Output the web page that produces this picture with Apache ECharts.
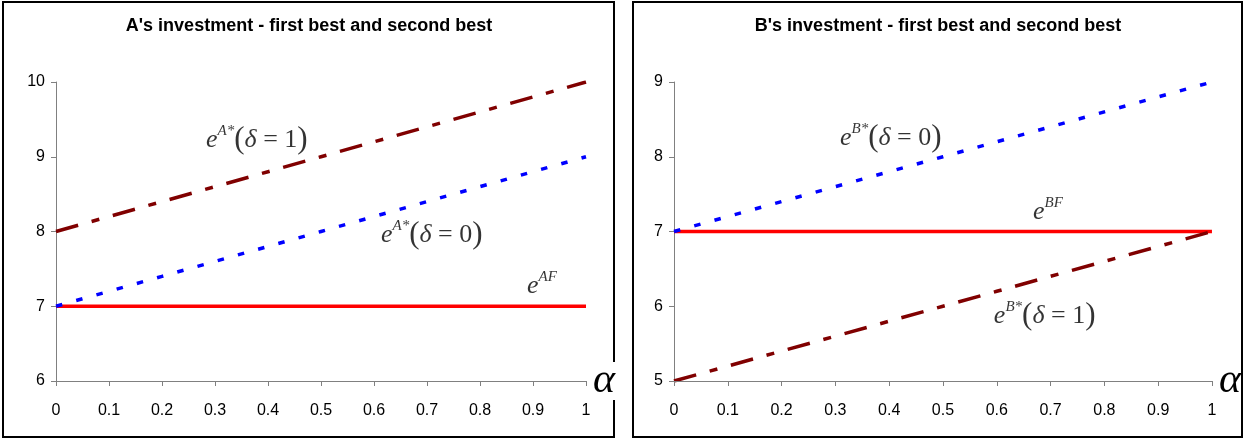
<!DOCTYPE html>
<html>
<head>
<meta charset="utf-8">
<script src="https://cdn.jsdelivr.net/npm/echarts@6/dist/echarts.min.js"></script>
<style>
html,body{margin:0;padding:0;background:#fff;}
#c{width:1244px;height:440px;}
</style>
</head>
<body>
<div id="c"></div>
<script>
// ---- data ----
const alphaValues = [0, 0.1, 0.2, 0.3, 0.4, 0.5, 0.6, 0.7, 0.8, 0.9, 1];
const aSecondDelta1 = [8, 8.2, 8.4, 8.6, 8.8, 9, 9.2, 9.4, 9.6, 9.8, 10];
const aSecondDelta0 = [7, 7.2, 7.4, 7.6, 7.8, 8, 8.2, 8.4, 8.6, 8.8, 9];
const aFirstBest    = [7, 7, 7, 7, 7, 7, 7, 7, 7, 7, 7];
const bSecondDelta0 = [7, 7.2, 7.4, 7.6, 7.8, 8, 8.2, 8.4, 8.6, 8.8, 9];
const bFirstBest    = [7, 7, 7, 7, 7, 7, 7, 7, 7, 7, 7];
const bSecondDelta1 = [5, 5.2, 5.4, 5.6, 5.8, 6, 6.2, 6.4, 6.6, 6.8, 7];
const titleA = "A's investment - first best and second best";
const titleB = "B's investment - first best and second best";
const xAxisName = 'α';

function pairs(xs, ys){ return xs.map((x,i)=>[x, ys[i]]); }

const serif = "'Liberation Serif', 'DejaVu Serif', serif";
const sans = "'Liberation Sans', Arial, sans-serif";

const rich = {
  e: {fontFamily: serif, fontStyle: 'italic', fontSize: 26, lineHeight: 32, color: '#000'},
  s: {fontFamily: serif, fontStyle: 'italic', fontSize: 15, lineHeight: 15, verticalAlign: 'top', color: '#000'},
  p: {fontFamily: serif, fontSize: 31, lineHeight: 32, color: '#000'},
  d: {fontFamily: serif, fontStyle: 'italic', fontSize: 26, lineHeight: 32, color: '#000'},
  n: {fontFamily: serif, fontSize: 26, lineHeight: 32, color: '#000'}
};
function mathLabel(sup, delta){
  if (delta === null) return '{e|e}{s|' + sup + '}';
  return '{e|e}{s|' + sup + '}{p|(}{d|δ}{n| = ' + delta + '}{p|)}';
}

// annotation anchors (data units) for each panel
const annA = [
  {value: [0.379, 9.224], text: mathLabel('A*', 1)},
  {value: [0.709, 7.953], text: mathLabel('A*', 0)},
  {value: [0.917, 7.271], text: mathLabel('AF', null)}
];
const annB = [
  {value: [0.403, 8.251], text: mathLabel('B*', 0)},
  {value: [0.695, 7.261], text: mathLabel('BF', null)},
  {value: [0.689, 5.870], text: mathLabel('B*', 1)}
];

const axisGray = '#808080';
function xAxisDef(gi){
  return {
    type: 'value', gridIndex: gi, min: 0, max: 1, interval: 0.1, z: 5,
    name: xAxisName, nameLocation: 'end', nameGap: 7,
    nameTextStyle: {fontFamily: serif, fontStyle: 'italic', fontSize: 42, color: '#000',
                    backgroundColor: '#fff', verticalAlign: 'middle', align: 'left', lineHeight: 38},
    axisLine: {show: true, onZero: false, lineStyle: {color: axisGray, width: 1}},
    axisTick: {show: true, inside: false, length: 5, lineStyle: {color: axisGray}},
    axisLabel: {color: '#000', fontFamily: sans, fontSize: 16, margin: 22},
    splitLine: {show: false}
  };
}
function yAxisDef(gi, mn, mx){
  return {
    type: 'value', gridIndex: gi, min: mn, max: mx, interval: 1,
    axisLine: {show: true, lineStyle: {color: axisGray, width: 1}},
    axisTick: {show: true, inside: false, length: 5, lineStyle: {color: axisGray}},
    axisLabel: {color: '#000', fontFamily: sans, fontSize: 16, margin: 11},
    splitLine: {show: false}
  };
}
function lineSeries(gi, ys, color, type, w){
  return {
    type: 'line', xAxisIndex: gi, yAxisIndex: gi, data: pairs(alphaValues, ys),
    showSymbol: false, symbol: 'none', animation: false, silent: true,
    lineStyle: {color: color, width: w, type: type, cap: 'butt'}
  };
}
function labelSeries(gi, ann){
  return {
    type: 'scatter', xAxisIndex: gi, yAxisIndex: gi, symbolSize: 0,
    itemStyle: {color: 'rgba(0,0,0,0)'}, animation: false, silent: true, z: 4,
    data: ann.map(a => ({value: a.value, label: {formatter: a.text}})),
    label: {show: true, position: 'inside', align: 'center', verticalAlign: 'middle',
            color: '#000', textBorderWidth: 0, rich: rich}
  };
}

const darkRed = '#800000';
const dashDot = [23, 14, 8, 14];
const dotted = [6.5, 14.5];

const option = {
  backgroundColor: '#fff',
  animation: false,
  grid: [
    {left: 56, top: 82, width: 530, height: 299},
    {left: 674, top: 82, width: 541, height: 299}
  ],
  xAxis: [xAxisDef(0), xAxisDef(1)],
  yAxis: [yAxisDef(0, 6, 10), yAxisDef(1, 5, 9)],
  graphic: [
    {type: 'rect', z: 0, shape: {x: 3, y: 2, width: 611, height: 435}, style: {fill: 'none', stroke: '#000', lineWidth: 2}},
    {type: 'rect', z: 0, shape: {x: 633, y: 2, width: 609, height: 435}, style: {fill: 'none', stroke: '#000', lineWidth: 2}},
    {type: 'text', z: 1, x: 309, y: 26, style: {text: titleA, fontFamily: sans, fontWeight: 'bold', fontSize: 18, fill: '#000', textAlign: 'center', textVerticalAlign: 'middle'}},
    {type: 'text', z: 1, x: 938, y: 26, style: {text: titleB, fontFamily: sans, fontWeight: 'bold', fontSize: 18, fill: '#000', textAlign: 'center', textVerticalAlign: 'middle'}}
  ],
  series: [
    lineSeries(0, aFirstBest, '#FF0000', 'solid', 3.5),
    lineSeries(0, aSecondDelta0, '#0000FF', dotted, 3.5),
    lineSeries(0, aSecondDelta1, darkRed, dashDot, 3.5),
    labelSeries(0, annA),
    lineSeries(1, bFirstBest, '#FF0000', 'solid', 3.5),
    lineSeries(1, bSecondDelta0, '#0000FF', dotted, 3.5),
    lineSeries(1, bSecondDelta1, darkRed, dashDot, 3.5),
    labelSeries(1, annB)
  ]
};

const chart = echarts.init(document.getElementById('c'), null, {renderer: 'canvas'});
chart.setOption(option);
</script>
</body>
</html>
